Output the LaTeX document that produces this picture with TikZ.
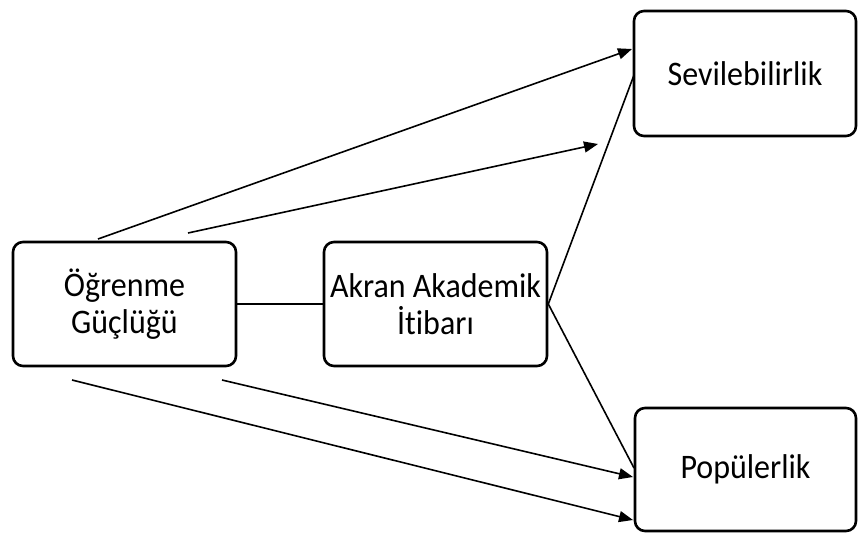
\documentclass[tikz,border=0pt]{standalone}
\usepackage{fontspec}
\setmainfont[Ligatures={NoCommon},FakeStretch=0.93]{Carlito}
\usetikzlibrary{arrows.meta}
\begin{document}
\begin{tikzpicture}[x=1pt,y=-1pt,
  box/.style={draw=black, line width=2.6pt, rounded corners=10pt, align=center,
    inner sep=0pt, font=\fontsize{34.4}{37}\selectfont},
  link/.style={draw=black, line width=1.6pt},
  arr/.style={link, -{Triangle[length=14pt,width=11pt]}}]
  \useasboundingbox (0,0) rectangle (867,533);

  % variable boxes
  \node[box, minimum width=223pt, minimum height=124pt] (og) at (124.5,304) {Öğrenme\\Güçlüğü};
  \node[box, minimum width=223pt, minimum height=124pt] (ak) at (435.5,304) {Akran Akademik\\İtibarı};
  \node[box, minimum width=222pt, minimum height=125pt] (sv) at (745,73.5) {Sevilebilirlik};
  \node[box, minimum width=221pt, minimum height=123pt] (pp) at (745.5,469.5) {Popülerlik};

  % free ends of the direct paths
  \coordinate (s1) at (98,239);
  \coordinate (e1) at (632,49);
  \coordinate (s2) at (188,233);
  \coordinate (e2) at (598,144);
  \coordinate (s3) at (222,380);
  \coordinate (e3) at (633,477);
  \coordinate (s4) at (72,380);
  \coordinate (e4) at (633,520);
  \coordinate (c1) at (634,75);
  \coordinate (c2) at (634,468);

  % mediator link and mediated paths
  \draw[link] (og.east) -- (ak.west);
  \draw[link] (ak.east) -- (c1);
  \draw[link] (ak.east) -- (c2);

  % direct paths
  \draw[arr] (s1) -- (e1);
  \draw[arr] (s2) -- (e2);
  \draw[arr] (s3) -- (e3);
  \draw[arr] (s4) -- (e4);
\end{tikzpicture}
\end{document}
